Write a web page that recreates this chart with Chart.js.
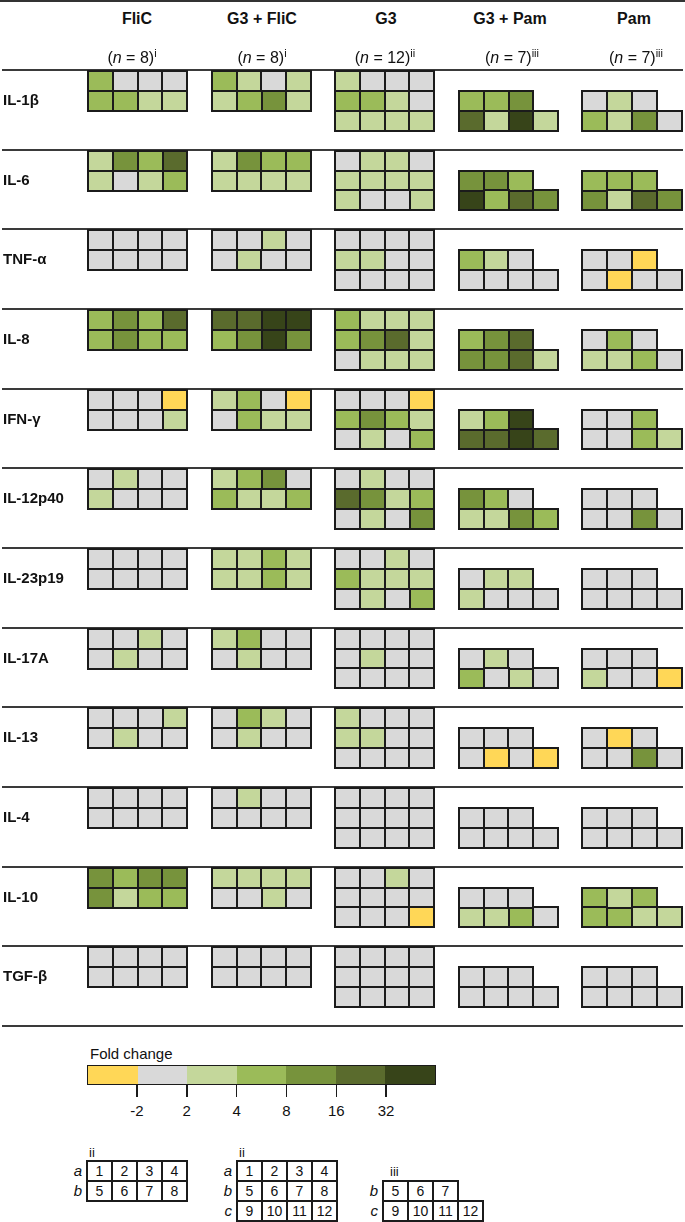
<!DOCTYPE html>
<html>
<head>
<meta charset="utf-8">
<script src="https://cdn.jsdelivr.net/npm/chart.js@4.4.1/dist/chart.umd.min.js"></script>
<style>
  body { margin: 0; background: #fff; font-family: "Liberation Sans", Arial, Helvetica, sans-serif; color: #111; }
  #page { position: relative; width: 685px; height: 1222px; overflow: hidden; }
  .t { position: absolute; white-space: nowrap; }
  .grp { font-weight: bold; font-size: 16px; line-height: 20px; top: 9px; width: 160px; text-align: center; }
  .n { font-size: 16px; line-height: 20px; top: 48px; width: 160px; text-align: center; }
  .n sup { font-size: 11px; vertical-align: 6px; line-height: 0; }
  .lab { left: 3px; font-weight: bold; font-size: 15px; line-height: 18px; }
  .key { position: absolute; box-sizing: border-box; width: 27px; height: 22px; border: 2px solid #1b1b1b; background: #fff; font-size: 14px; line-height: 18px; text-align: center; }
</style>
</head>
<body>
<div id="page">
  <div class="t" style="left:0;top:0;width:685px;height:2px;background:#333"></div>
  <canvas id="grid" width="685" height="976" style="position:absolute;left:0;top:60px"></canvas>
</div>
<script>
// ---- data ----
const GROUPS = ['FliC', 'G3 + FliC', 'G3', 'G3 + Pam', 'Pam'];
const GROUP_N = ['8', '8', '12', '7', '7'];
const GROUP_NOTE = ['i', 'i', 'ii', 'iii', 'iii'];
const CYTOKINES = ['IL-1β', 'IL-6', 'TNF-α', 'IL-8', 'IFN-γ', 'IL-12p40', 'IL-23p19', 'IL-17A', 'IL-13', 'IL-4', 'IL-10', 'TGF-β'];
const BIN_EDGES = ['-2', '2', '4', '8', '16', '32'];
const BIN_COLORS = ['#FFD757', '#D9D9D9', '#C4D79B', '#9BBB59', '#77933C', '#5A6B2D', '#374419'];

// fold-change bin per animal: -1 below -2, 0 = -2..2, 1 = 2-4, 2 = 4-8, 3 = 8-16, 4 = 16-32, 5 = above 32
// (animal order as in the keys at the bottom)
const FLIC = [
  [2,0,0,0, 2,2,1,1],
  [1,3,2,4, 1,0,1,2],
  [0,0,0,0, 0,0,0,0],
  [2,3,2,4, 2,3,2,2],
  [0,0,0,-1, 0,0,0,1],
  [0,1,0,0, 1,0,0,0],
  [0,0,0,0, 0,0,0,0],
  [0,0,1,0, 0,1,0,0],
  [0,0,0,1, 0,1,0,0],
  [0,0,0,0, 0,0,0,0],
  [3,2,3,3, 3,1,2,2],
  [0,0,0,0, 0,0,0,0]
];
const G3_FLIC = [
  [2,1,0,1, 1,2,3,1],
  [1,3,2,2, 1,1,1,1],
  [0,0,1,0, 0,1,0,0],
  [4,4,5,5, 2,3,5,3],
  [1,2,0,-1, 0,2,1,1],
  [1,2,3,0, 2,1,1,2],
  [1,1,2,1, 1,1,2,1],
  [1,2,0,0, 0,1,0,0],
  [0,2,1,0, 0,1,0,0],
  [0,1,0,0, 0,0,0,0],
  [1,1,1,1, 0,0,1,0],
  [0,0,0,0, 0,0,0,0]
];
const G3 = [
  [1,0,0,0, 2,2,1,0, 1,1,1,1],
  [0,1,1,0, 1,1,1,1, 1,0,0,1],
  [0,0,0,0, 1,1,0,0, 0,0,0,0],
  [2,1,1,1, 2,3,4,1, 0,1,1,1],
  [0,0,0,-1, 2,3,2,1, 0,1,0,2],
  [0,1,0,0, 4,3,1,2, 0,1,0,3],
  [0,0,1,0, 2,1,1,1, 0,1,0,2],
  [0,0,0,0, 0,1,0,0, 0,0,0,0],
  [1,0,0,0, 1,1,0,0, 0,0,0,0],
  [0,0,0,0, 0,0,0,0, 0,0,0,0],
  [0,0,1,0, 0,0,0,0, 0,0,0,-1],
  [0,0,0,0, 0,0,0,0, 0,0,0,0]
];
const G3_PAM = [
  [2,2,3, 4,1,5,1],
  [3,3,2, 5,2,4,3],
  [2,1,0, 0,0,0,0],
  [2,3,4, 3,3,4,1],
  [1,2,5, 4,4,5,4],
  [3,2,0, 1,1,3,2],
  [0,1,1, 1,0,0,0],
  [0,1,0, 2,0,1,0],
  [0,0,0, 0,-1,0,-1],
  [0,0,0, 0,0,0,0],
  [0,0,0, 1,1,2,0],
  [0,0,0, 0,0,0,0]
];
const PAM = [
  [0,1,0, 2,1,3,0],
  [2,2,2, 3,1,4,3],
  [0,0,-1, 0,-1,0,0],
  [0,2,0, 1,1,2,0],
  [0,0,2, 0,0,2,1],
  [0,0,0, 0,0,3,0],
  [0,0,0, 0,0,0,0],
  [0,0,0, 1,0,0,-1],
  [0,-1,0, 0,0,3,0],
  [0,0,0, 0,0,0,0],
  [2,1,2, 2,2,1,1],
  [0,0,0, 0,0,0,0]
];

const SERIES = [FLIC, G3_FLIC, G3, G3_PAM, PAM];
const LAYOUT = ['ab', 'ab', 'abc', 'bc', 'bc'];

// ---- layout constants (px) ----
const LINE_TOP = 70, ROW_PITCH = 956 / 12;
const GROUP_CX = [137, 262, 386, 510, 634];
const NOTE_CX = [132, 262, 385, 512, 636];

const page = document.getElementById('page');
function addText(cls, html, style) {
  const d = document.createElement('div');
  d.className = 't ' + cls;
  d.innerHTML = html;
  d.style.cssText += style;
  page.appendChild(d);
  return d;
}

// header
GROUPS.forEach((g, i) => {
  addText('grp', g, `left:${GROUP_CX[i] - 80}px`);
  addText('n', `(<i>n</i> = ${GROUP_N[i]})<sup>${GROUP_NOTE[i]}</sup>`, `left:${NOTE_CX[i] - 80}px`);
});

// row labels
CYTOKINES.forEach((c, i) => {
  addText('lab', c, `top:${(LINE_TOP + ROW_PITCH * i + 21).toFixed(1)}px`);
});

// ---- heat cells through Chart.js scatter ----
function cellRC(layout, k) {
  if (layout === 'bc') return k < 3 ? [1, k] : [2, k - 3];
  return [Math.floor(k / 4), k % 4];
}
const points = BIN_COLORS.map(() => []);
SERIES.forEach((series, g) => series.forEach((cells, i) => cells.forEach((bin, k) => {
  const [r, c] = cellRC(LAYOUT[g], k);
  points[bin + 1].push({ x: 4 + 5 * g + c, y: 4 * i + r + 0.55 });
})));

function cellImage(color) {
  const cv = document.createElement('canvas');
  cv.width = 27; cv.height = 22;
  const c = cv.getContext('2d');
  c.fillStyle = color;
  c.fillRect(1, 1, 25, 20);
  c.strokeStyle = '#1b1b1b';
  c.lineWidth = 2;
  c.strokeRect(1, 1, 25, 20);
  return cv;
}

new Chart(document.getElementById('grid'), {
  type: 'scatter',
  data: {
    datasets: BIN_COLORS.map((col, b) => ({
      label: b === 0 ? '< -2' : (b === 6 ? '> 32' : BIN_EDGES[b - 1]),
      data: points[b],
      pointStyle: cellImage(col),
      pointRadius: 1,
      pointHoverRadius: 1
    }))
  },
  options: {
    responsive: false,
    devicePixelRatio: 1,
    animation: false,
    events: [],
    layout: { padding: { top: 10, bottom: 10, left: 0, right: 0 } },
    plugins: { legend: { display: false }, tooltip: { enabled: false } },
    scales: {
      x: { type: 'linear', display: false, min: 0, max: 685 / 24.85 },
      y: {
        type: 'linear', reverse: true, min: 0, max: 48,
        ticks: { display: false, stepSize: 4 },
        grid: { drawTicks: false, color: '#3a3a3a', lineWidth: 2 },
        border: { display: false }
      }
    }
  },
  plugins: [{ id: 'crisp', beforeDatasetsDraw(chart) { chart.ctx.imageSmoothingEnabled = false; } }]
});

// ---- colour legend ----
addText('', 'Fold change', 'left:90px;top:1045px;font-size:15px;line-height:18px');
const bar = document.createElement('div');
bar.style.cssText = 'position:absolute;left:87px;top:1065px;width:349px;height:20px;box-sizing:border-box;border:1.5px solid #1b1b1b;display:flex';
BIN_COLORS.forEach(col => {
  const s = document.createElement('div');
  s.style.cssText = `flex:1;background:${col}`;
  bar.appendChild(s);
});
page.appendChild(bar);
BIN_EDGES.forEach((lbl, i) => {
  const x = 87 + 349 * (i + 1) / 7;
  const tick = document.createElement('div');
  tick.style.cssText = `position:absolute;left:${(x - 0.75).toFixed(1)}px;top:1085px;width:1.5px;height:12px;background:#1b1b1b`;
  page.appendChild(tick);
  addText('', lbl, `left:${(x - 30).toFixed(1)}px;width:60px;text-align:center;top:1102px;font-size:15px;line-height:18px`);
});

// ---- animal position keys ----
function drawKey(x0, y0, rows, note, noteX, noteY) {
  addText('', note, `left:${noteX}px;top:${noteY}px;font-size:13px;line-height:15px`);
  rows.forEach((row, r) => {
    addText('', `<i>${row.name}</i>`, `left:${x0 - 30}px;width:25px;text-align:right;top:${y0 + 20 * r + 1}px;font-size:15px;line-height:18px`);
    row.nums.forEach((num, c) => {
      const d = document.createElement('div');
      d.className = 'key';
      d.style.left = (x0 + 25 * c - 1) + 'px';
      d.style.top = (y0 + 20 * r - 1) + 'px';
      d.textContent = num;
      page.appendChild(d);
    });
  });
}
drawKey(87, 1161, [{ name: 'a', nums: [1, 2, 3, 4] }, { name: 'b', nums: [5, 6, 7, 8] }], 'ii', 89, 1145);
drawKey(237, 1161, [{ name: 'a', nums: [1, 2, 3, 4] }, { name: 'b', nums: [5, 6, 7, 8] }, { name: 'c', nums: [9, 10, 11, 12] }], 'ii', 239, 1145);
drawKey(383, 1181, [{ name: 'b', nums: [5, 6, 7] }, { name: 'c', nums: [9, 10, 11, 12] }], 'iii', 390, 1164);
</script>
</body>
</html>
